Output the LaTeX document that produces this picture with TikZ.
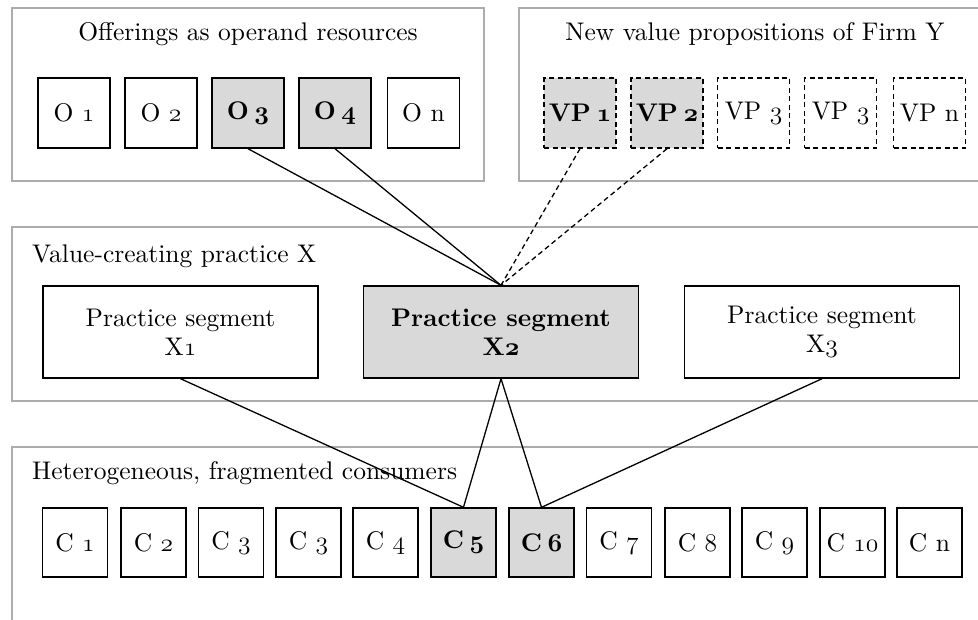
\RequirePackage{fix-cm}
\documentclass[tikz,border=0pt]{standalone}
\usepackage{fontspec}
\setmainfont{lmroman10-regular.otf}[BoldFont=lmroman10-bold.otf, ItalicFont=lmroman10-italic.otf]
\definecolor{panelgray}{RGB}{172,172,172}
\definecolor{hifill}{RGB}{217,217,217}
\newcommand{\lbl}{\fontsize{25.5}{29}\selectfont}
\newcommand{\os}[1]{\ensuremath{\mathnormal{#1}}}
\newcommand{\bsp}{\hspace{0.22em}}
\tikzset{
  panel/.style={draw=panelgray, line width=1.8pt},
  box/.style={draw=black, line width=1.4pt, minimum width=72pt, minimum height=70pt, inner sep=0pt, font=\lbl},
  hi/.style={fill=hifill, font=\lbl\bfseries\boldmath},
  vpbox/.style={box, dash pattern=on 5pt off 3.5pt},
  cbox/.style={box, minimum width=65pt, minimum height=69pt},
  seg/.style={draw=black, line width=1.4pt, minimum width=275pt, minimum height=92pt, align=center, inner sep=0pt, font=\lbl},
  conn/.style={line width=1.3pt},
  dconn/.style={conn, dash pattern=on 5pt off 3.5pt},
  title/.style={font=\lbl, inner sep=0pt},
}
\begin{document}
\begin{tikzpicture}[x=1pt,y=-1pt]
\clip (0,0) rectangle (978,619);
\fill[white] (0,0) rectangle (978,619);
% panels
\draw[panel] (12,8) rectangle (484,181);
\draw[panel] (990,8) -- (519,8) -- (519,181) -- (990,181);
\draw[panel] (990,227) -- (12,227) -- (12,401) -- (990,401);
\draw[panel] (990,447) -- (12,447) -- (12,630);
% titles
\node[title, anchor=base] (t1) at (248,40) {Offerings as operand resources};
\node[title, anchor=base] (t2) at (755,40) {New value propositions of Firm Y};
\node[title, anchor=base west] (t3) at (32,262) {Value-creating practice X};
\node[title, anchor=base west] (t4) at (32,479) {Heterogeneous, fragmented consumers};
% offerings
\node[box] (O1) at (74,113) {O \os{1}};
\node[box] (O2) at (161,113) {O \os{2}};
\node[box,hi] (O3) at (248,113) {O\bsp\os{3}};
\node[box,hi] (O4) at (335,113) {O\bsp\os{4}};
\node[box] (On) at (423.5,113) {O n};
% value propositions
\node[vpbox,hi] (VP1) at (580,113) {VP\bsp\os{1}};
\node[vpbox,hi] (VP2) at (667,113) {VP\bsp\os{2}};
\node[vpbox] (VP3) at (753.5,113) {VP \os{3}};
\node[vpbox] (VP3b) at (840.5,113) {VP \os{3}};
\node[vpbox] (VPn) at (929.5,113) {VP n};
% practice segments
\node[seg] (X1) at (180.5,332) {Practice segment\\X\os{1}};
\node[seg, fill=hifill, font=\lbl\bfseries\boldmath] (X2) at (501,332) {Practice segment\\X\os{2}};
\node[seg] (X3) at (822,332) {Practice segment\\X\os{3}};
% consumers
\node[cbox] (C1) at (75,542.5) {C \os{1}};
\node[cbox] (C2) at (153.5,542.5) {C \os{2}};
\node[cbox] (C3) at (231,542.5) {C \os{3}};
\node[cbox] (C3b) at (308.5,542.5) {C \os{3}};
\node[cbox] (C4) at (385.5,542.5) {C \os{4}};
\node[cbox,hi] (C5) at (463.5,542.5) {C\bsp\os{5}};
\node[cbox,hi] (C6) at (541.5,542.5) {C\bsp\os{6}};
\node[cbox] (C7) at (619,542.5) {C \os{7}};
\node[cbox] (C8) at (697.5,542.5) {C \os{8}};
\node[cbox] (C9) at (774.5,542.5) {C \os{9}};
\node[cbox] (C10) at (852.5,542.5) {C \os{10}};
\node[cbox] (Cn) at (929.5,542.5) {C n};
% connectors
\draw[conn] (O3.south) -- (X2.north);
\draw[conn] (O4.south) -- (X2.north);
\draw[dconn] (VP1.south) -- (X2.north);
\draw[dconn] (VP2.south) -- (X2.north);
\draw[conn] (X1.south) -- (C5.north);
\draw[conn] (X2.south) -- (C5.north);
\draw[conn] (X2.south) -- (C6.north);
\draw[conn] (X3.south) -- (C6.north);
\end{tikzpicture}
\end{document}
